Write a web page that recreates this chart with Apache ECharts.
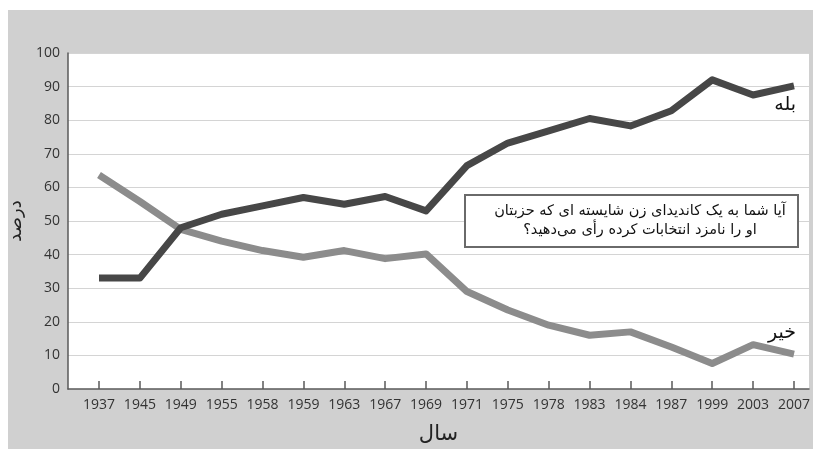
<!DOCTYPE html>
<html>
<head>
<meta charset="utf-8">
<script src="https://cdn.jsdelivr.net/npm/echarts@6/dist/echarts.min.js"></script>
<style>
html,body{margin:0;padding:0;background:#fff;overflow:hidden;}
#c{width:813px;height:449px;}
</style>
</head>
<body>
<div id="c"></div>
<script>
var years = ['1937','1945','1949','1955','1958','1959','1963','1967','1969','1971','1975','1978','1983','1984','1987','1999','2003','2007'];
var yesValues = [33,33,48,52,54.5,57,55,57.3,53,66.5,73.2,76.8,80.5,78.3,82.8,92,87.5,90.2];
var noValues = [63.7,55.8,47.5,44,41.2,39.2,41.2,38.8,40.2,29,23.5,19,16,17,12.5,7.6,13.2,10.4];
var yTicks = [0,10,20,30,40,50,60,70,80,90,100];
var yesLabel = 'بله';
var noLabel = 'خیر';
var yAxisTitle = 'درصد';
var xAxisTitle = 'سال';
var questionLines = ['آیا شما به یک کاندیدای زن شایسته ای که حزبتان', 'او را نامزد انتخابات کرده رأی می‌دهید؟'];

var chart = echarts.init(document.getElementById('c'), null, {renderer:'canvas'});
var labelFont = '"Open Sans", "DejaVu Sans", sans-serif';
var arFont = '"DejaVu Sans", "Noto Sans", sans-serif';

var option = {
  animation: false,
  backgroundColor: 'transparent',
  graphic: [
    {type:'rect', z:-10, silent:true, shape:{x:8,y:10,width:805,height:439}, style:{fill:'#d0d0d0'}}
  ],
  grid: [
    {left:68, right:4, top:53, bottom:60, show:true, backgroundColor:'#ffffff', borderWidth:0, containLabel:false, outerBoundsMode:'none'},
    {left:99, right:19, top:53, bottom:60, containLabel:false, outerBoundsMode:'none'}
  ],
  xAxis: [
    {gridIndex:0, type:'value', min:0, max:1, axisLabel:{show:false}, axisTick:{show:false}, splitLine:{show:false},
     axisLine:{show:true, lineStyle:{color:'#5a5a5a', width:1.5}},
     name: xAxisTitle, nameLocation:'middle', nameGap:35,
     nameTextStyle:{fontFamily:arFont, fontSize:21, color:'#222'}},
    {gridIndex:1, type:'category', data: years, boundaryGap:false,
     axisLine:{show:false},
     axisTick:{show:true, inside:true, length:8, lineStyle:{color:'#5a5a5a', width:1.5}},
     axisLabel:{color:'#333', fontFamily:labelFont, fontSize:14, margin:9, interval:0},
     splitLine:{show:false}}
  ],
  yAxis: [
    {gridIndex:0, type:'value', min:yTicks[0], max:yTicks[yTicks.length-1], interval:10,
     axisLine:{show:true, lineStyle:{color:'#5a5a5a', width:1.5}},
     axisTick:{show:false},
     axisLabel:{color:'#333', fontFamily:labelFont, fontSize:14, margin:8},
     splitLine:{show:true, lineStyle:{color:'#d4d4d4', width:1.2}},
     name: yAxisTitle, nameLocation:'middle', nameGap:38, nameRotate:90,
     nameTextStyle:{fontFamily:arFont, fontSize:18, color:'#222'}},
    {gridIndex:1, type:'value', min:0, max:100, show:false}
  ],
  series: [
    {name:'no', type:'line', xAxisIndex:1, yAxisIndex:1, data:noValues, showSymbol:false, symbol:'none',
     lineStyle:{color:'#8c8c8c', width:7, join:'round', cap:'butt'}, z:3},
    {name:'yes', type:'line', xAxisIndex:1, yAxisIndex:1, data:yesValues, showSymbol:false, symbol:'none',
     lineStyle:{color:'#474747', width:7, join:'round', cap:'butt'}, z:4}
  ]
};
chart.setOption(option);

var n = years.length - 1;
var pYes = chart.convertToPixel({xAxisIndex:1, yAxisIndex:1}, [n, yesValues[n]]);
var pNo = chart.convertToPixel({xAxisIndex:1, yAxisIndex:1}, [n, noValues[n]]);

chart.setOption({
  graphic: [
    {type:'rect', z:-10, silent:true, shape:{x:8,y:10,width:805,height:439}, style:{fill:'#d0d0d0'}},
    {type:'text', z:20, x:pYes[0]+2, y:pYes[1]+19, style:{text:yesLabel, font:'19px ' + arFont, fill:'#111', align:'right', verticalAlign:'middle'}},
    {type:'text', z:20, x:pNo[0]+2, y:pNo[1]-21, style:{text:noLabel, font:'19px ' + arFont, fill:'#111', align:'right', verticalAlign:'middle'}},
    {type:'rect', z:20, shape:{x:465, y:195, width:333, height:52}, style:{fill:'#ffffff', stroke:'#6a6a6a', lineWidth:2}},
    {type:'text', z:21, x:640, y:221, style:{text:questionLines.join('\n'), font:'14.5px ' + arFont, fill:'#111', align:'center', verticalAlign:'middle', lineHeight:19}}
  ]
});
</script>
</body>
</html>
